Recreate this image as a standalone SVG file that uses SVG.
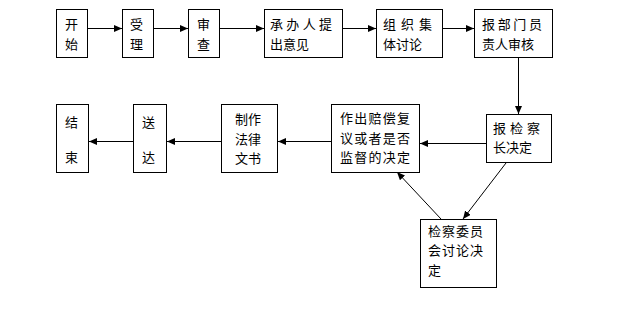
<svg xmlns="http://www.w3.org/2000/svg" width="629" height="310" viewBox="0 0 629 310">
<defs>
<marker id="ah" markerWidth="8" markerHeight="7" refX="8" refY="3.5" orient="auto" markerUnits="userSpaceOnUse">
<path d="M0,0 L8,3.5 L0,7 z" fill="#000"/>
</marker>
</defs>
<style>
.box{fill:#fff;stroke:#000;stroke-width:1}
text{font-family:"Noto Sans CJK SC","Noto Sans",sans-serif;font-size:13px;fill:#000}
.c line{stroke:#000;stroke-width:1;marker-end:url(#ah)}
</style>
<rect width="629" height="310" fill="#fff"/>
<g id="n1"><rect class="box" x="56.5" y="9.5" width="31" height="48"/><text x="65" y="29">开</text><text x="65" y="49">始</text></g>
<g id="n2"><rect class="box" x="122.5" y="9.5" width="31" height="48"/><text x="130" y="29">受</text><text x="130" y="49">理</text></g>
<g id="n3"><rect class="box" x="188.5" y="9.5" width="31" height="48"/><text x="197" y="29">审</text><text x="197" y="49">查</text></g>
<g id="n4"><rect class="box" x="264.5" y="9.5" width="78" height="48"/><text x="270" y="29" textLength="62" lengthAdjust="spacing">承办人提</text><text x="270" y="49">出意见</text></g>
<g id="n5"><rect class="box" x="376.5" y="9.5" width="66" height="48"/><text x="383" y="29" textLength="49" lengthAdjust="spacing">组织集</text><text x="383" y="49">体讨论</text></g>
<g id="n6"><rect class="box" x="474.5" y="9.5" width="78" height="48"/><text x="482" y="29" textLength="60" lengthAdjust="spacing">报部门员</text><text x="482" y="49">责人审核</text></g>
<g id="n7"><rect class="box" x="486.5" y="114.5" width="65" height="48"/><text x="493" y="133" textLength="47" lengthAdjust="spacing">报检察</text><text x="493" y="152">长决定</text></g>
<g id="n8"><rect class="box" x="331.5" y="104.5" width="88" height="68"/><text x="340" y="123" textLength="70" lengthAdjust="spacing">作出赔偿复</text><text x="340" y="143" textLength="70" lengthAdjust="spacing">议或者是否</text><text x="340" y="162" textLength="70" lengthAdjust="spacing">监督的决定</text></g>
<g id="n9"><rect class="box" x="420.5" y="219.5" width="76" height="68"/><text x="428" y="236" textLength="55" lengthAdjust="spacing">检察委员</text><text x="428" y="255" textLength="55" lengthAdjust="spacing">会讨论决</text><text x="428" y="275">定</text></g>
<g id="n10"><rect class="box" x="221.5" y="104.5" width="56" height="68"/><text x="235" y="124">制作</text><text x="235" y="144">法律</text><text x="235" y="163">文书</text></g>
<g id="n11"><rect class="box" x="133.5" y="104.5" width="33" height="68"/><text x="142" y="127">送</text><text x="142" y="162">达</text></g>
<g id="n12"><rect class="box" x="56.5" y="104.5" width="32" height="68"/><text x="65" y="127">结</text><text x="65" y="162">束</text></g>
<g class="c" id="connectors">
<line x1="88" y1="28.5" x2="122" y2="28.5"/>
<line x1="154" y1="28.5" x2="188" y2="28.5"/>
<line x1="220" y1="28.5" x2="264" y2="28.5"/>
<line x1="343" y1="28.5" x2="376" y2="28.5"/>
<line x1="443" y1="28.5" x2="474" y2="28.5"/>
<line x1="518.5" y1="58" x2="518.5" y2="114"/>
<line x1="486" y1="143.5" x2="420" y2="143.5"/>
<line x1="506" y1="163" x2="463" y2="219"/>
<line x1="441" y1="219" x2="397" y2="172"/>
<line x1="331" y1="141.5" x2="278" y2="141.5"/>
<line x1="221" y1="141.5" x2="167" y2="141.5"/>
<line x1="133" y1="141.5" x2="89" y2="141.5"/>
</g>
</svg>
